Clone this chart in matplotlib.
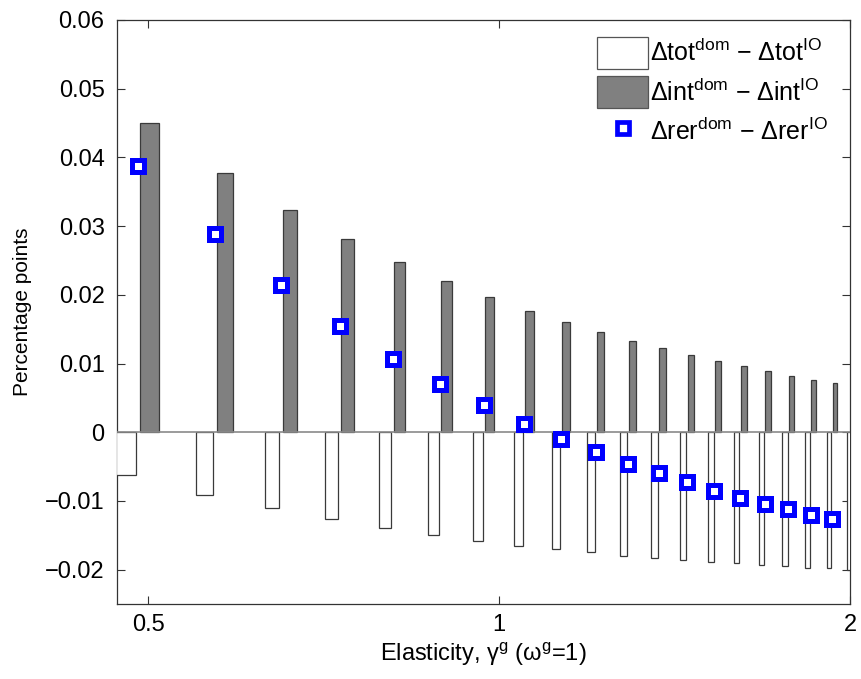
import matplotlib
matplotlib.use("Agg")
import matplotlib.pyplot as plt
from matplotlib.patches import Patch
from matplotlib.lines import Line2D
from matplotlib.ticker import NullLocator

plt.rcParams['font.family'] = ['Liberation Sans', 'DejaVu Sans']
plt.rcParams['mathtext.fontset'] = 'custom'
plt.rcParams['mathtext.rm'] = 'Liberation Sans'
plt.rcParams['mathtext.it'] = 'Liberation Sans:italic'
plt.rcParams['mathtext.bf'] = 'Liberation Sans:bold'

# ---- data ----
gamma = [0.49, 0.57, 0.65, 0.73, 0.81, 0.89, 0.97, 1.05, 1.13, 1.21,
         1.29, 1.37, 1.45, 1.53, 1.61, 1.69, 1.77, 1.85, 1.93, 2.01]
d_tot = [-0.0062, -0.0091, -0.0111, -0.0127, -0.0140, -0.0150, -0.0158, -0.0165,
         -0.0170, -0.0175, -0.0180, -0.0183, -0.0186, -0.0189, -0.0191, -0.0193,
         -0.0195, -0.0197, -0.0198, -0.0200]
d_int = [0.0450, 0.0378, 0.0323, 0.0281, 0.0248, 0.0220, 0.0197, 0.0176,
         0.0160, 0.0146, 0.0133, 0.0122, 0.0112, 0.0104, 0.0096, 0.0089,
         0.0082, 0.0076, 0.0071, 0.0067]
d_rer = [0.0388, 0.0289, 0.0214, 0.0154, 0.0107, 0.0070, 0.0039, 0.0012,
         -0.0010, -0.0029, -0.0046, -0.0060, -0.0073, -0.0085, -0.0095, -0.0104,
         -0.0112, -0.0120, -0.0126, -0.0132]
xticks = [0.5, 1, 2]
xticklabels = ['0.5', '1', '2']
yticks = [-0.02, -0.01, 0, 0.01, 0.02, 0.03, 0.04, 0.05, 0.06]
yticklabels = ['\u22120.02', '\u22120.01', '0', '0.01', '0.02', '0.03', '0.04', '0.05', '0.06']
labels = ['\u0394tot$^{\\mathrm{dom}}$ \u2212 \u0394tot$^{\\mathrm{IO}}$',
          '\u0394int$^{\\mathrm{dom}}$ \u2212 \u0394int$^{\\mathrm{IO}}$',
          '\u0394rer$^{\\mathrm{dom}}$ \u2212 \u0394rer$^{\\mathrm{IO}}$']
xlabel = 'Elasticity, \u03b3$^{\\mathrm{g}}$ (\u03c9$^{\\mathrm{g}}$=1)'
ylabel = 'Percentage points'

# ---- layout ----
W, H = 861, 679
fig = plt.figure(figsize=(W / 100, H / 100), dpi=100)
ax = fig.add_axes([117 / W, 1 - 604 / H, (850 - 117) / W, (604 - 20) / H])

spacing = 0.08
slot = spacing * (2 / 3.5) / 2
bw = 0.8 * slot
xl = [g - slot / 2 for g in gamma]
xr = [g + slot / 2 for g in gamma]

edge = '#3a3a3a'
ax.bar(xl, d_tot, width=bw, color='white', edgecolor=edge, linewidth=0.9, zorder=2.6)
ax.bar(xr, d_int, width=bw, color='#808080', edgecolor=edge, linewidth=0.9, zorder=2.6)
ax.axhline(0, color='#8a8a8a', lw=1.2, zorder=2.7)

xmax = 2.0
gx = [g for g in gamma if g <= xmax]
gy = [v for g, v in zip(gamma, d_rer) if g <= xmax]
ax.plot(gx, gy, linestyle='none', marker='s', ms=8.6, mew=3.6,
        mec='#0000ff', mfc='white', zorder=4)

ax.set_xscale('log')
ax.set_xlim(0.47, xmax)
ax.set_ylim(-0.025, 0.06)
ax.set_xticks(xticks)
ax.set_xticklabels(xticklabels)
ax.xaxis.set_minor_locator(NullLocator())
ax.set_yticks(yticks)
ax.set_yticklabels(yticklabels)
ax.tick_params(direction='in', length=6, width=0.8, color='#333333',
               top=True, right=True, labelsize=17)
ax.tick_params(axis='x', pad=7)
ax.tick_params(axis='y', pad=9)
for s in ax.spines.values():
    s.set_color('#333333')
    s.set_linewidth(0.9)

ax.set_xlabel(xlabel, fontsize=17, labelpad=4)
ax.set_ylabel(ylabel, fontsize=15, labelpad=9)

handles = [Patch(facecolor='white', edgecolor='#555555', linewidth=0.9),
           Patch(facecolor='#808080', edgecolor='#555555', linewidth=0.9),
           Line2D([], [], linestyle='none', marker='s', ms=8, mew=3.4,
                  mec='#0000ff', mfc='white')]
leg = fig.legend(handles, labels, loc='upper left',
                 bbox_to_anchor=(597 / W, 1 - 37 / H), frameon=False,
                 fontsize=18, handlelength=2.04, handleheight=1.59,
                 handletextpad=0.1, labelspacing=0.3, borderpad=0,
                 borderaxespad=0)

fig.savefig('out.png', dpi=100)
